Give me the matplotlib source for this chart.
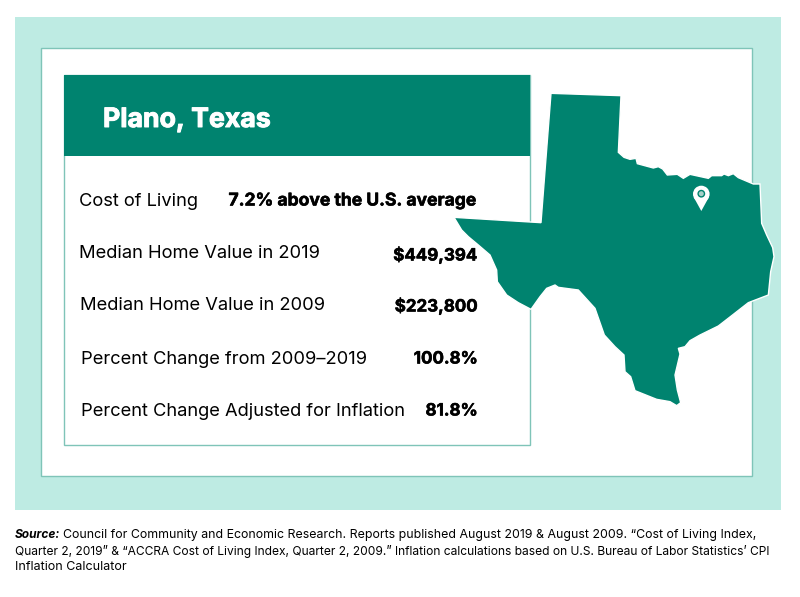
import matplotlib
matplotlib.use("Agg")
import matplotlib.pyplot as plt
import matplotlib.patheffects as pe
from matplotlib.patches import Rectangle, Polygon, Circle

plt.rcParams['font.family'] = ['Inter', 'DejaVu Sans']

title = "Plano, Texas"
row_labels = ["Cost of Living", "Median Home Value in 2019", "Median Home Value in 2009",
              "Percent Change from 2009\u20132019", "Percent Change Adjusted for Inflation"]
row_values = ["7.2% above the U.S. average", "$449,394", "$223,800", "100.8%", "81.8%"]
label_x = [79, 79, 80, 81, 81]
label_y = [201, 254, 305, 359, 411]
value_y = [201, 255, 306, 359, 411]
value_size = [12.6, 12.2, 12.2, 12.2, 12.2]

source_bold = "Source:"
source_lines = [
    "Council for Community and Economic Research. Reports published August 2019 & August 2009. \u201cCost of Living Index,",
    "Quarter 2, 2019\u201d & \u201cACCRA Cost of Living Index, Quarter 2, 2009.\u201d Inflation calculations based on U.S. Bureau of Labor Statistics\u2019 CPI",
    "Inflation Calculator",
]
source_size = [8.9, 8.65, 9.0]

texas_zoom = [(333,40),(543,47),(535,217),(552,232),(570,238),(588,235),(592,251),(640,264),(655,260),
              (668,267),(682,285),(712,283),(730,295),(750,283),(805,295),(815,287),(845,287),(852,282),
              (865,287),(880,281),(895,293),(940,312),(960,312),(965,430),(980,465),(998,503),(1002,530),
              (992,575),(985,645),(925,668),(875,707),(835,738),(780,765),(750,782),(735,800),(715,805),
              (720,822),(705,885),(712,930),(722,968),(710,977),(690,965),(650,958),(585,932),(572,890),
              (555,875),(552,825),(525,800),(493,765),(465,685),(415,630),(355,622),(345,615),(320,625),
              (300,650),(273,688),(235,668),(200,645),(172,605),(170,570),(150,525),(115,495),(85,470),
              (65,450),(42,412),(303,428)]

teal = "#00836F"
mint = "#BEEBE3"
edge = "#7FC4B8"

fig = plt.figure(figsize=(8, 5.97), dpi=100)
ax = fig.add_axes([0, 0, 1, 1])
ax.set_xlim(0, 800)
ax.set_ylim(597, 0)
ax.axis("off")

ax.add_patch(Rectangle((15, 17), 766, 493, fc=mint, ec="none"))
ax.add_patch(Rectangle((41, 48), 711, 428, fc="white", ec=edge, lw=1))
ax.add_patch(Rectangle((64, 75), 466, 370, fc="white", ec=edge, lw=1))
ax.add_patch(Rectangle((64, 75), 466, 81, fc=teal, ec="none"))

texas = [(440 + x / 3, 80 + y / 3) for x, y in texas_zoom]
ax.add_patch(Polygon(texas, closed=True, fc=teal, ec="white", lw=1, zorder=3))

# pin
ax.add_patch(Circle((701.3, 194), 8.3, fc="white", ec="none", zorder=4))
ax.add_patch(Polygon([(693.6, 197), (709, 197), (701.3, 211)], closed=True, fc="white", ec="none", zorder=4))
ax.add_patch(Circle((701.3, 193.7), 3.2, fc="#a8d0c8", ec=teal, lw=1, zorder=5))

# Inter bold is lighter than the original font, thicken it a bit
heavy_w = [pe.withStroke(linewidth=0.7, foreground="white")]
heavy_k = [pe.withStroke(linewidth=0.4, foreground="black")]

ax.text(103, 120, title, color="white", fontsize=19.2, fontweight="bold", va="center", ha="left",
        path_effects=heavy_w)

for lab, x, y in zip(row_labels, label_x, label_y):
    ax.text(x, y, lab, color="black", fontsize=13.2, va="center", ha="left")
for val, y, s in zip(row_values, value_y, value_size):
    ax.text(477.5, y, val, color="black", fontsize=s, fontweight="bold", va="center", ha="right",
            path_effects=heavy_k)

ax.text(15, 535, source_bold, color="black", fontsize=8.6, style="italic", fontweight="bold", va="center", ha="left")
ax.text(63, 535, source_lines[0], color="black", fontsize=source_size[0], va="center", ha="left")
ax.text(15, 551, source_lines[1], color="black", fontsize=source_size[1], va="center", ha="left")
ax.text(15, 567, source_lines[2], color="black", fontsize=source_size[2], va="center", ha="left")

fig.savefig("out.png", dpi=100)
